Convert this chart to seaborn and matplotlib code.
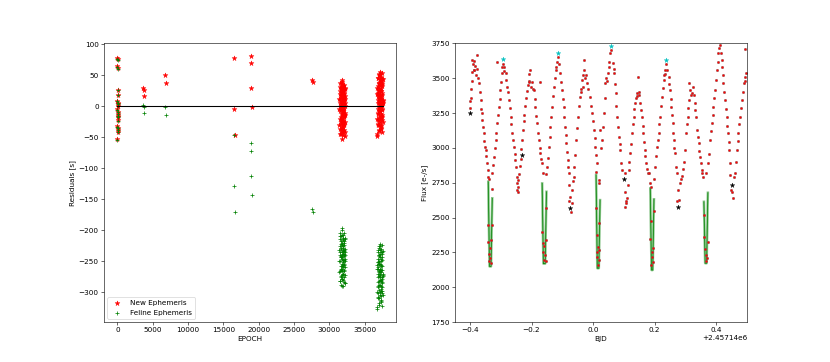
import matplotlib
matplotlib.use("Agg")
import matplotlib.pyplot as plt
import seaborn as sns
import numpy as np

# ---------------- Left panel data: O-C residuals ----------------
ep_early = [0, 40, 0, 80, 20, 60, 0, 100, 30, 140, 10, 70, 120, 20, 90, 50, 0, 110, 30, 60, 10,
            3680, 3720, 3750, 6800, 6840, 16540, 16560, 16590, 18940, 18960, 18980, 19000, 27590, 27630]
new_early = [78, 76, 65, 62, 27, 19, 9, 6, 3, 1, -5, -9, -12, -15, -18, -22, -32, -35, -38, -42, -53,
             29, 26, 17, 50, 37, 78, -4, -46, 82, 70, 29, -1, 42, 39]
feline_early = [77, 75, 64, 61, 27, 19, 8, 5, 3, 1, -6, -9, -13, -16, -18, -23, -33, -35, -39, -42, -54,
                2, -1, -11, -1, -14, -47, -129, -171, -60, -72, -113, -143, -165, -170]

ep_c1 = [31420, 31450, 31480, 31500, 31530, 31560, 31590, 31610, 31640, 31660, 31690, 31710, 31730,
         31750, 31770, 31790, 31810, 31830, 31850, 31870, 31890, 31910, 31930, 31950, 31970, 31990,
         32010, 32030, 32050, 32080, 32100, 32130, 32160, 32190, 32220, 32250, 31600, 31700, 31800,
         31900, 32000, 31650, 31750, 31850, 31950, 32050, 31550, 31780, 31880, 31980,
         31440, 31470, 31520, 31540, 31580, 31620, 31630, 31670, 31680, 31720, 31740, 31760, 31780,
         31800, 31820, 31840, 31860, 31880, 31900, 31920, 31940, 31960, 31980, 32000, 32020, 32040,
         32060, 32070, 32090, 32110, 32120, 32140, 32150, 32170, 32180, 32200, 32210, 32230, 32240, 32260]
new_c1 = [12, -30, 25, -8, 38, -45, 5, -18, 30, -2, -38, 18, -25, 8, 42, -52, 0, 22, -12, -35, 15, 33,
          -20, 3, -42, 27, -6, 10, -28, 20, -15, 35, -48, 6, -10, 28, -22, 14, -4, 24, -33, 1, 17, -40,
          9, -14, 31, -26, 4, -8,
          -5, 20, -36, 10, -20, 28, -44, 2, 16, -28, 36, -12, 6, -32, 24, -16, 40, -6, -24, 12, -46, 18,
          -10, 32, -38, 4, 26, -18, 14, -30, 8, -2, 22, -42, 30, -14, 0, 16, -26, 11]
feline_c1 = [-232, -268, -215, -250, -205, -282, -240, -258, -210, -244, -276, -222, -264, -236, -196,
             -290, -246, -220, -254, -272, -226, -208, -260, -238, -280, -214, -248, -234, -266, -218,
             -256, -204, -286, -240, -250, -212, -262, -228, -244, -216, -270, -242, -224, -278, -232,
             -254, -210, -266, -238, -248,
             -250, -226, -282, -236, -266, -218, -288, -244, -230, -274, -208, -258, -240, -278, -222,
             -262, -200, -252, -270, -234, -290, -228, -256, -212, -284, -242, -220, -264, -232, -276,
             -238, -248, -224, -286, -214, -260, -246, -230, -272, -236]

ep_c2 = [36760, 36800, 36840, 36870, 36900, 36930, 36960, 36990, 37020, 37050, 37080, 37110, 37140,
         37170, 37200, 37230, 37260, 37290, 37320, 37350, 37380, 37410, 37440, 37470, 37500, 37530,
         37560, 37590, 36850, 36950, 37050, 37150, 37250, 37350, 37450, 37550, 36880, 36980, 37080,
         37180, 37280, 37380, 37480, 37000, 37100, 37200, 37300, 37400, 37130, 37230,
         36780, 36820, 36860, 36890, 36910, 36940, 36970, 37000, 37030, 37060, 37090, 37120, 37160,
         37190, 37210, 37240, 37270, 37300, 37330, 37360, 37390, 37420, 37430, 37460, 37490, 37510,
         37540, 37570, 36830, 36920, 37010, 37070, 37170, 37270, 37370, 37460, 37520, 36900, 37100, 37310]
new_c2 = [-48, 20, 45, -10, 5, 33, -28, 52, 12, -38, 25, -2, 40, -20, 56, 8, -32, 30, 15, -15, 48, -42,
          2, 36, 22, -6, 10, -25, 28, -12, 38, 0, 18, -35, 44, 6, -22, 26, 14, -8, 34, -18, 3, 50, -30,
          16, 24, -4, 42, 10,
          30, -20, 10, 46, -30, 20, -5, 38, -18, 28, -40, 14, 50, -26, 4, 34, -12, 42, -36, 24, 0, 18,
          54, -22, 32, -14, 8, 44, -44, 16, 36, -8, 26, -30, 12, 40, -18, 22, 6, -2]
feline_c2 = [-328, -262, -235, -290, -275, -246, -308, -225, -268, -318, -255, -282, -238, -300, -222,
             -272, -312, -250, -265, -295, -230, -322, -278, -244, -258, -286, -270, -305, -252, -292,
             -240, -280, -262, -315, -236, -274, -302, -254, -266, -288, -246, -298, -276, -228, -310,
             -264, -256, -284, -232, -270,
             -256, -300, -270, -232, -310, -262, -284, -240, -296, -250, -320, -266, -226, -304, -276,
             -244, -290, -236, -316, -258, -280, -264, -224, -302, -248, -292, -272, -234, -324, -260,
             -242, -288, -254, -306, -268, -238, -298, -252, -274, -282]

zero_line_epochs = [0, 37580]

# ---------------- Right panel data: light curve ----------------
BJD0 = 2457140.0
seg1 = [(-0.401, 3290), (-0.399, 3340), (-0.397, 3420), (-0.396, 3356), (-0.394, 3480), (-0.393, 3545),
        (-0.3926, 3630), (-0.390, 3600), (-0.388, 3625), (-0.386, 3560), (-0.384, 3590), (-0.381, 3520),
        (-0.3786, 3666), (-0.378, 3570), (-0.375, 3500), (-0.3874, 3559),
        (-0.371, 3463), (-0.369, 3400), (-0.3657, 3343), (-0.364, 3280), (-0.362, 3250), (-0.360, 3200),
        (-0.358, 3150), (-0.355, 3107), (-0.353, 3050), (-0.351, 3010), (-0.349, 2985), (-0.347, 2940),
        (-0.344, 2890), (-0.342, 2840), (-0.3407, 2793), (-0.339, 2780)]
seg2 = [(-0.3407, 2447), (-0.3277, 2447), (-0.3407, 2328), (-0.3354, 2280), (-0.331, 2340), (-0.3354, 2208),
        (-0.332, 2177), (-0.338, 2240), (-0.3375, 2190),
        (-0.3277, 2818), (-0.3277, 2705), (-0.325, 2880), (-0.322, 2937), (-0.320, 3000), (-0.317, 3057),
        (-0.314, 3110), (-0.3115, 3176), (-0.309, 3240), (-0.3063, 3295), (-0.304, 3350), (-0.301, 3415),
        (-0.299, 3470), (-0.2976, 3535), (-0.296, 3580), (-0.311, 3614), (-0.2933, 3600)]
seg3 = [(-0.291, 3580), (-0.288, 3550), (-0.2846, 3535), (-0.282, 3490), (-0.279, 3439), (-0.276, 3400),
        (-0.2738, 3343), (-0.271, 3290), (-0.2683, 3224), (-0.266, 3170), (-0.2628, 3105), (-0.260, 3060),
        (-0.2577, 3009), (-0.255, 2960), (-0.2522, 2913), (-0.250, 2860), (-0.2488, 2793), (-0.2467, 2746),
        (-0.2434, 2686), (-0.247, 2700), (-0.2455, 2720), (-0.244, 2770),
        (-0.241, 2810), (-0.238, 2870), (-0.235, 2920), (-0.2327, 2990), (-0.230, 3060), (-0.228, 3130),
        (-0.226, 3190), (-0.224, 3240), (-0.221, 3300), (-0.218, 3360), (-0.215, 3410), (-0.212, 3450),
        (-0.209, 3480), (-0.207, 3530), (-0.2067, 3475), (-0.204, 3560), (-0.2015, 3440)]
seg4 = [(-0.198, 3470), (-0.195, 3420), (-0.1928, 3415), (-0.190, 3350), (-0.1873, 3295), (-0.184, 3230),
        (-0.1818, 3176), (-0.179, 3110), (-0.1765, 3057), (-0.174, 3000), (-0.171, 2961), (-0.168, 2920),
        (-0.1656, 2890), (-0.1636, 2822), (-0.1516, 2813), (-0.173, 3475),
        (-0.1656, 2395), (-0.1636, 2316), (-0.158, 2300), (-0.1546, 2340), (-0.1568, 2232), (-0.159, 2196),
        (-0.1515, 2567), (-0.162, 2250), (-0.153, 2190),
        (-0.1493, 2865), (-0.147, 2930), (-0.144, 3009), (-0.141, 3080), (-0.1386, 3152), (-0.136, 3220),
        (-0.133, 3295), (-0.130, 3370), (-0.1257, 3439), (-0.123, 3500), (-0.119, 3559), (-0.117, 3620),
        (-0.121, 3580), (-0.1137, 3650)]
seg5 = [(-0.110, 3600), (-0.1062, 3535), (-0.103, 3470), (-0.1007, 3415), (-0.098, 3350), (-0.0955, 3295),
        (-0.093, 3220), (-0.090, 3152), (-0.088, 3090), (-0.0867, 3033), (-0.084, 2970), (-0.0825, 2913),
        (-0.081, 2860), (-0.0792, 2818), (-0.0792, 2734), (-0.0737, 2650), (-0.0683, 2603), (-0.0716, 2543),
        (-0.077, 2620), (-0.070, 2700),
        (-0.066, 2760), (-0.063, 2793), (-0.0608, 2865), (-0.058, 2950), (-0.0543, 3057), (-0.052, 3140),
        (-0.049, 3224), (-0.046, 3300), (-0.0435, 3367), (-0.040, 3420), (-0.0358, 3487), (-0.032, 3520),
        (-0.0283, 3559), (-0.030, 3630), (-0.025, 3500), (-0.022, 3520), (-0.038, 3400), (-0.034, 3440)]
seg6 = [(-0.019, 3463), (-0.016, 3420), (-0.0086, 3368), (-0.006, 3300), (-0.0032, 3248), (0.000, 3190),
        (0.0022, 3129), (0.005, 3070), (0.0076, 3009), (0.010, 2950), (0.013, 2890), (0.0096, 2829),
        (0.0184, 2770), (0.0203, 2750),
        (0.0096, 2567), (0.0129, 2375), (0.0151, 2292), (0.014, 2220), (0.0181, 2196), (0.0203, 2268),
        (0.0203, 2459), (0.016, 2160), (0.012, 2250),
        (0.0236, 3128), (0.026, 3000), (0.029, 3057), (0.031, 3150), (0.0343, 3248), (0.037, 3360),
        (0.0398, 3463), (0.043, 3500), (0.046, 3480), (0.048, 3540), (0.0505, 3582), (0.053, 3620),
        (0.056, 3678), (0.058, 3700)]
seg7 = [(0.0648, 3607), (0.067, 3570), (0.069, 3535), (0.071, 3460), (0.0733, 3391), (0.075, 3300),
        (0.0777, 3224), (0.080, 3150), (0.083, 3080), (0.086, 3030), (0.0885, 2985), (0.0917, 2890),
        (0.094, 2840), (0.1037, 2818), (0.1037, 2686), (0.1068, 2603), (0.110, 2639), (0.112, 2734),
        (0.105, 2580), (0.108, 2620),
        (0.1153, 2842), (0.118, 2900), (0.1209, 2961), (0.123, 3030), (0.1264, 3105), (0.129, 3170),
        (0.1316, 3224), (0.134, 3280), (0.1371, 3320), (0.140, 3360), (0.1426, 3391), (0.145, 3510),
        (0.1478, 3403), (0.144, 3370), (0.150, 3380)]
seg8 = [(0.1533, 3320), (0.156, 3270), (0.1588, 3224), (0.161, 3160), (0.162, 3105), (0.165, 3040),
        (0.1673, 2985), (0.170, 2940), (0.1728, 2890), (0.175, 2850), (0.1783, 2818), (0.1825, 2818),
        (0.1857, 2746), (0.188, 2720),
        (0.1879, 2478), (0.1857, 2345), (0.1965, 2550), (0.1944, 2285), (0.1912, 2216), (0.1933, 2184),
        (0.189, 2160), (0.192, 2250),
        (0.199, 2780), (0.202, 2865), (0.205, 2940), (0.2075, 3009), (0.210, 3060), (0.2127, 3105),
        (0.215, 3170), (0.2182, 3224), (0.221, 3300), (0.2237, 3367), (0.226, 3430), (0.2289, 3487),
        (0.232, 3530), (0.2344, 3559), (0.236, 3600), (0.230, 3520)]
seg9 = [(0.240, 3560), (0.2452, 3511), (0.248, 3460), (0.2506, 3415), (0.252, 3350), (0.2539, 3295),
        (0.256, 3240), (0.2582, 3176), (0.260, 3110), (0.2614, 3057), (0.264, 3000), (0.2669, 2961),
        (0.2701, 2865), (0.2723, 2818), (0.2756, 2698), (0.2799, 2626), (0.2818, 2746), (0.274, 2620),
        (0.285, 2780), (0.288, 2800), (0.291, 2850), (0.2938, 2900), (0.2993, 2985), (0.3025, 3105),
        (0.305, 3170), (0.3068, 3224), (0.309, 3290), (0.3113, 3343), (0.313, 3463), (0.3155, 3415),
        (0.318, 3380), (0.321, 3391), (0.324, 3440), (0.327, 3380)]
seg10 = [(0.3295, 3320), (0.332, 3270), (0.334, 3224), (0.3372, 3128), (0.340, 3080), (0.3425, 3033),
         (0.345, 2980), (0.348, 2937), (0.351, 2890), (0.3535, 2842), (0.3537, 2818), (0.356, 2790),
         (0.368, 2822),
         (0.3619, 2519), (0.3609, 2363), (0.3717, 2328), (0.3641, 2273), (0.3674, 2232), (0.3696, 2208),
         (0.3652, 2187),
         (0.3749, 2890), (0.377, 2960), (0.3804, 3057), (0.383, 3120), (0.3859, 3176), (0.388, 3240),
         (0.391, 3295), (0.394, 3360), (0.3965, 3415), (0.399, 3490), (0.402, 3559), (0.405, 3620),
         (0.4073, 3678), (0.409, 3720), (0.412, 3738)]
seg11 = [(0.415, 3678), (0.418, 3630), (0.4203, 3582), (0.422, 3520), (0.4235, 3463), (0.426, 3400),
         (0.429, 3343), (0.432, 3280), (0.4345, 3224), (0.436, 3160), (0.4377, 3105), (0.440, 3040),
         (0.442, 2985), (0.4452, 2890), (0.4432, 2806), (0.4516, 2686), (0.4538, 2639), (0.457, 2793),
         (0.449, 2700),
         (0.4615, 2818), (0.464, 2900), (0.467, 2985), (0.470, 3050), (0.4722, 3105), (0.475, 3170),
         (0.4777, 3224), (0.480, 3290), (0.4832, 3343), (0.486, 3400), (0.4907, 3463), (0.493, 3480),
         (0.495, 3511), (0.4939, 3707), (0.497, 3540)]

min_t = [-0.400, -0.232, -0.0735, 0.0995, 0.2757, 0.4508]
min_f = [3248, 2950, 2567, 2778, 2580, 2735]
max_t = [-0.293, -0.1135, 0.0595, 0.238]
max_f = [3635, 3683, 3731, 3630]

# eclipse model: (x_in, top_in, bottom, x_out, top_out)
ecl_xin = [-0.3407, -0.1656, 0.0096, 0.1857, 0.3600]
ecl_top_in = [2758, 2746, 2806, 2710, 2614]
ecl_bottom = [2150, 2170, 2137, 2124, 2173]
ecl_xout = [-0.3277, -0.1516, 0.0226, 0.1977, 0.3729]
ecl_top_out = [2639, 2686, 2626, 2632, 2679]

# ---------------- Figure ----------------
DPI = 51.875
fig, (ax1, ax2) = plt.subplots(1, 2, figsize=(830 / DPI, 362 / DPI), dpi=DPI)

ep_all = ep_early + ep_c1 + ep_c2
new_all = new_early + new_c1 + new_c2
fel_all = feline_early + feline_c1 + feline_c2

sns.scatterplot(x=ep_all, y=new_all, ax=ax1, marker='*', color='red', edgecolor='red',
                linewidth=0.6, s=50, label='New Ephemeris', zorder=2)
sns.scatterplot(x=ep_all, y=fel_all, ax=ax1, marker='+', color='green',
                linewidth=1.0, s=40, label='Feline Ephemeris', zorder=3)
sns.lineplot(x=zero_line_epochs, y=[0, 0], ax=ax1, color='black', linewidth=1.5, zorder=4)
ax1.set_xlim(-1930, 39470)
ax1.set_ylim(-348.5, 101.5)
ax1.set_yticks([100, 50, 0, -50, -100, -150, -200, -250, -300])
ax1.set_xticks([0, 5000, 10000, 15000, 20000, 25000, 30000, 35000])
ax1.set_xlabel('EPOCH')
ax1.set_ylabel('Residuals [s]')
ax1.legend(loc='lower left')

# right
for i in range(len(ecl_xin)):
    xs = [BJD0 + ecl_xin[i], BJD0 + ecl_xin[i] + 0.004, BJD0 + ecl_xout[i] - 0.004, BJD0 + ecl_xout[i]]
    ys = [ecl_top_in[i], ecl_bottom[i], ecl_bottom[i], ecl_top_out[i]]
    sns.lineplot(x=xs, y=ys, ax=ax2, sort=False, estimator=None, color='green',
                 linewidth=3.5, alpha=0.45, zorder=1)
    sns.lineplot(x=xs, y=ys, ax=ax2, sort=False, estimator=None, color='green',
                 linewidth=1.0, zorder=1.5)

segs = seg1 + seg2 + seg3 + seg4 + seg5 + seg6 + seg7 + seg8 + seg9 + seg10 + seg11
lc_t = [BJD0 + p[0] for p in segs]
lc_f = [p[1] for p in segs]
sns.scatterplot(x=lc_t, y=lc_f, ax=ax2, marker='o', color='red', edgecolor='0.4',
                linewidth=0.45, s=13, zorder=2)
sns.scatterplot(x=[BJD0 + t for t in min_t], y=min_f, ax=ax2, marker='*', color='black',
                edgecolor='black', linewidth=0.5, s=45, zorder=3)
sns.scatterplot(x=[BJD0 + t for t in max_t], y=max_f, ax=ax2, marker='*', color='c',
                edgecolor='c', linewidth=0.5, s=45, zorder=3)
ax2.set_xlim(BJD0 - 0.45, BJD0 + 0.50)
ax2.set_ylim(1750, 3750)
ax2.set_xlabel('BJD')
ax2.set_ylabel('Flux [e-/s]')

fig.savefig('out.png', dpi=DPI)
